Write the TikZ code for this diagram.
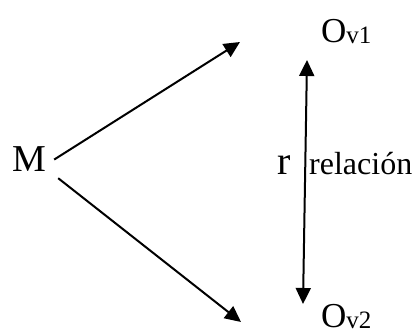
\documentclass[tikz,border=0pt]{standalone}
\usepackage{fontspec}
\setmainfont{Liberation Serif}
\usetikzlibrary{arrows.meta,positioning}

\newcommand{\subv}[1]{\raisebox{-1pt}{\fontsize{25}{25}\selectfont #1}}

\begin{document}
\begin{tikzpicture}[x=1pt,y=-1pt,
  every node/.style={inner sep=0pt,anchor=base west},
  link/.style={line width=2pt,-{Triangle[length=16pt,width=15pt]}}]
\useasboundingbox (0,0) rectangle (412,336);
% variable, observaciones
\node[font=\fontsize{38}{38}\selectfont] (M) at (12,172) {M};
\node[font=\fontsize{35}{35}\selectfont] (ov1) at (321,43) {O\subv{v1}};
\node[font=\fontsize{35}{35}\selectfont] (ov2) at (321,327) {O\subv{v2}};
% extremos de las flechas
\coordinate (t1) at (240,42);
\coordinate (t2) at (241,322);
\coordinate (ra) at (307,60);
\coordinate (rb) at (303,304);
\draw[link] ([xshift=8pt]M.east) -- (t1);
\draw[link] ([xshift=12pt,yshift=-6pt]M.south east) -- (t2);
\draw[line width=2pt,{Triangle[length=16pt,width=15pt]}-{Triangle[length=16pt,width=15pt]}] (ra) -- (rb);
% etiquetas
\node[font=\fontsize{40}{40}\selectfont] (r) at (277,175) {r};
\node[font=\fontsize{32}{32}\selectfont] (rel) at (309,175) {relación};
\end{tikzpicture}
\end{document}
